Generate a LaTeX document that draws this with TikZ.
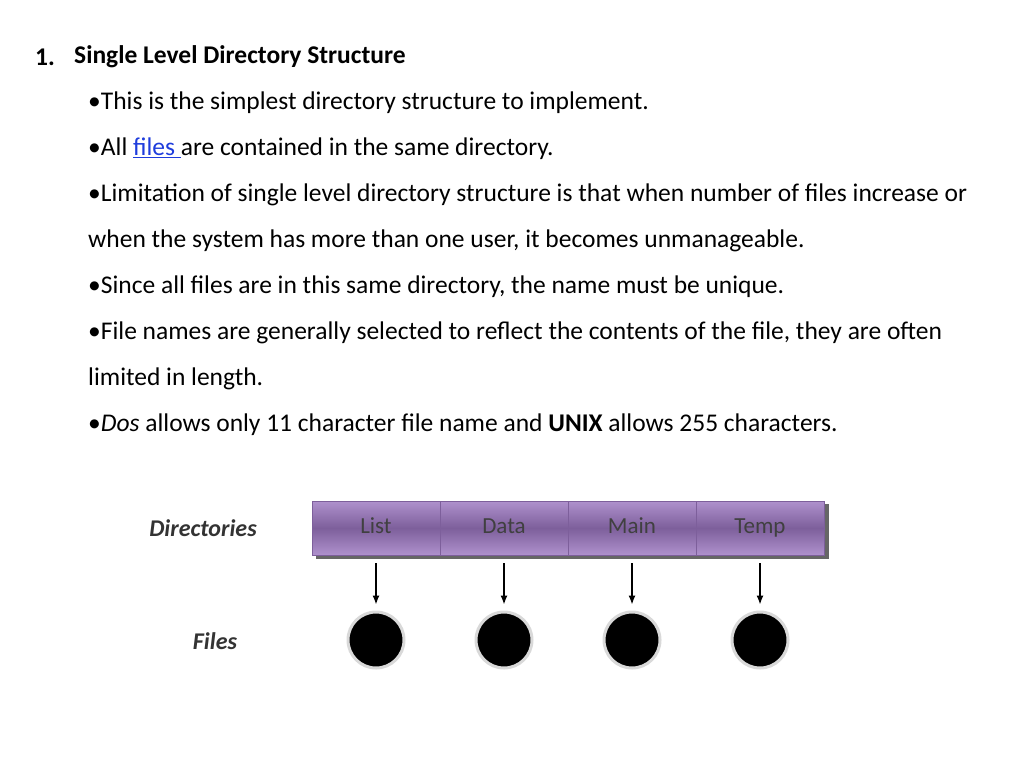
\documentclass[tikz,border=0pt]{standalone}
\usepackage{fontspec}
\setmainfont{Carlito}
\usetikzlibrary{positioning,arrows.meta}
\definecolor{dirfill}{RGB}{175,145,205}
\definecolor{dirdark}{RGB}{125,95,155}
\definecolor{linkblue}{RGB}{30,60,220}
\tikzset{
    line/.style={anchor=west, inner sep=0pt, font=\fontsize{25.5}{28}\selectfont},
    dir/.style={draw=dirdark, top color=dirfill, bottom color=dirfill, middle color=dirdark,
        minimum width=128pt, minimum height=54pt, inner sep=0pt, text height=14pt, text depth=4pt,
        font=\fontsize{23}{26}\selectfont\color{black!75}},
    file/.style={circle, fill=black, draw=white!85!black, line width=3pt, minimum size=56pt},
    lbl/.style={font=\fontsize{24}{28}\selectfont\bfseries\itshape\color{black!80}},
}
\begin{document}
\begin{tikzpicture}[x=1pt,y=-1pt]
    \useasboundingbox (0,0) rectangle (1024,768);
    \node[line] (t0) at (35,57) {\textbf{1.}};
    \node[line] (t1) at (74,57) {\textbf{Single Level Directory Structure}};
    \node[line] (b1) at (88,103) {•This is the simplest directory structure to implement.};
    \node[line] (b2) at (88,149) {•All \textcolor{linkblue}{\underline{files }}are contained in the same directory.};
    \node[line] (b3) at (88,195) {•Limitation of single level directory structure is that when number of files increase or};
    \node[line] (b3b) at (88,241) {when the system has more than one user, it becomes unmanageable.};
    \node[line] (b4) at (88,287) {•Since all files are in this same directory, the name must be unique.};
    \node[line] (b5) at (88,333) {•File names are generally selected to reflect the contents of the file, they are often};
    \node[line] (b5b) at (88,379) {limited in length.};
    \node[line] (b6) at (88,425) {•\textit{Dos} allows only 11 character file name and \textbf{UNIX} allows 255 characters.};
    % directories and files
    \fill[black!60] (316,504) rectangle (829,559);
    \foreach \name/\x in {List/376, Data/504, Main/632, Temp/760} {
        \node[dir] (d\name) at (\x,528) {\name};
        \node[file] (f\name) at (\x,640) {};
        \draw[-{Latex[length=9pt,width=7pt]}, line width=1.3pt] ([yshift=-8pt]d\name.south) -- ([yshift=6pt]f\name.north);
    }
    \node[lbl] (ldir) at (203,528) {Directories};
    \node[lbl] (lfile) at (215,641) {Files};
\end{tikzpicture}
\end{document}
